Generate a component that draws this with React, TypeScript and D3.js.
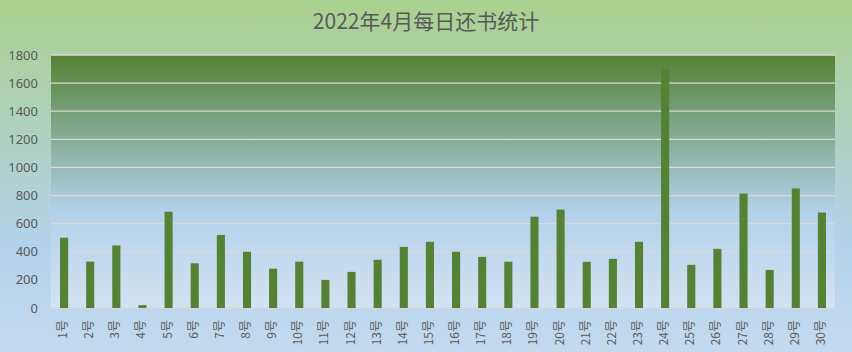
import * as d3 from "d3";

const TITLE = "2022年4月每日还书统计";
const DAYS = Array.from({ length: 30 }, (_, i) => `${i + 1}号`);
const RETURNS = [
  500, 330, 445, 20, 685, 318, 520, 400, 280, 330,
  200, 257, 343, 435, 471, 400, 364, 329, 650, 700,
  329, 350, 471, 1700, 307, 421, 814, 271, 850, 679,
];
const Y_TICKS = [0, 200, 400, 600, 800, 1000, 1200, 1400, 1600, 1800];

const W = 852;
const H = 352;
const margin = { top: 55, right: 17, bottom: 44, left: 51 };

export default function App() {
  const x = d3
    .scaleBand<string>()
    .domain(DAYS)
    .range([margin.left, W - margin.right])
    .paddingInner(0.69)
    .paddingOuter(0.345);
  const y = d3.scaleLinear().domain([0, 1800]).range([H - margin.bottom, margin.top]);

  const plotW = W - margin.left - margin.right;
  const plotH = H - margin.top - margin.bottom;
  const labelFont = "'Noto Sans CJK SC', 'Noto Sans', sans-serif";

  return (
    <div style={{ position: "fixed", left: 0, top: 0 }}>
      <svg width={W} height={H} style={{ display: "block" }}>
        <defs>
          <linearGradient id="bg" x1="0" y1="0" x2="0" y2="1">
            <stop offset="0" stopColor="#a9d18e" />
            <stop offset="0.7" stopColor="#b4d2ec" />
            <stop offset="1" stopColor="#c2daf0" />
          </linearGradient>
          <linearGradient id="plotbg" x1="0" y1="0" x2="0" y2="1">
            <stop offset="0" stopColor="#548235" />
            <stop offset="0.62" stopColor="#b2d1ea" />
            <stop offset="1" stopColor="#d2e3f3" />
          </linearGradient>
        </defs>
        <rect width={W} height={H} fill="url(#bg)" />
        <rect x={margin.left} y={margin.top} width={plotW} height={plotH} fill="url(#plotbg)" />

        {Y_TICKS.map((t) => (
          <g key={t}>
            <line
              x1={margin.left}
              x2={W - margin.right}
              y1={y(t)}
              y2={y(t)}
              stroke="#d9d9d9"
              strokeWidth={1.3}
            />
            <text
              x={38}
              y={y(t)}
              dy="0.35em"
              textAnchor="end"
              fontSize={13}
              fontFamily="'Noto Sans', sans-serif"
              fill="#595959"
            >
              {t}
            </text>
          </g>
        ))}

        {DAYS.map((d, i) => (
          <rect
            key={d}
            x={x(d)}
            y={y(RETURNS[i])}
            width={x.bandwidth()}
            height={y(0) - y(RETURNS[i])}
            fill="#548235"
          />
        ))}

        {DAYS.map((d) => {
          const cx = (x(d) ?? 0) + x.bandwidth() / 2;
          return (
            <text
              key={d}
              transform={`translate(${cx + 3},320) rotate(-90)`}
              textAnchor="end"
              fontSize={12}
              fontFamily={labelFont}
              fill="#595959"
            >
              {d}
            </text>
          );
        })}

        <text
          x={W / 2}
          y={29}
          textAnchor="middle"
          fontSize={21}
          fontFamily={labelFont}
          fill="#595959"
        >
          {TITLE}
        </text>
      </svg>
    </div>
  );
}
